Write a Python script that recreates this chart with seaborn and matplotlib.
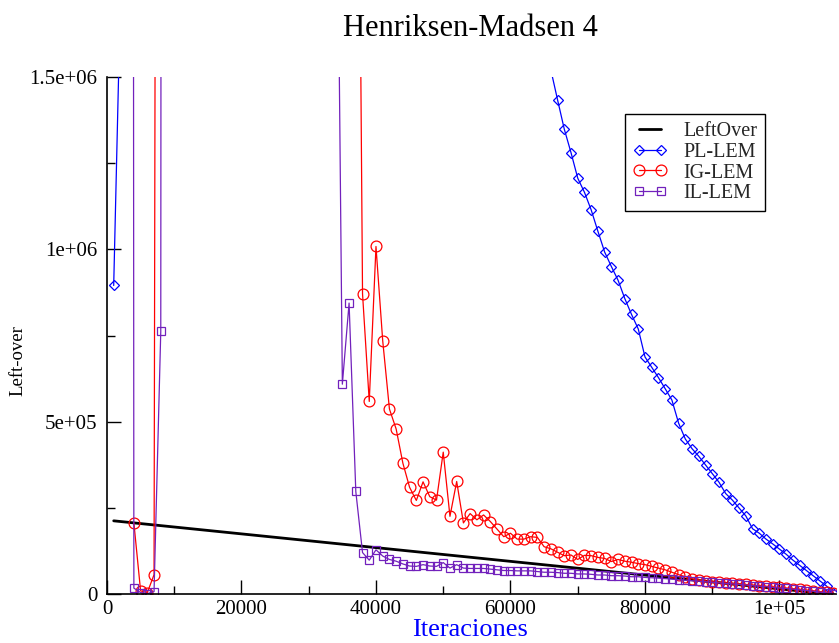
import matplotlib
matplotlib.use("Agg")
import matplotlib.pyplot as plt
import numpy as np
import pandas as pd
import seaborn as sns
from matplotlib.ticker import MultipleLocator

# ---- data (iterations in thousands, left-over values in thousands) ----
leftover_iter_k = [1, 108]
leftover_val_k = [213, 0]

pl_iter_k = [1, 2, 66, 67, 68, 69, 70, 71, 72, 73, 74, 75, 76, 77, 78, 79, 80,
             81, 82, 83, 84, 85, 86, 87, 88, 89, 90, 91, 92, 93, 94, 95, 96,
             97, 98, 99, 100, 101, 102, 103, 104, 105, 106, 107, 108]
pl_val_k = [895, 1730, 1520, 1433, 1348, 1280, 1206, 1165, 1114, 1052, 992, 950,
            910, 857, 811, 769, 688, 658, 628, 596, 563, 496, 450, 422, 400,
            375, 350, 325, 292, 273, 250, 227, 190, 177, 160, 146, 131, 116,
            99, 84, 69, 54, 39, 24, 4]

ig_iter_k = [4, 5, 6, 7, 8, 37, 38, 39, 40, 41, 42, 43, 44, 45, 46, 47, 48, 49,
             50, 51, 52, 53, 54, 55, 56, 57, 58, 59, 60, 61, 62, 63, 64, 65, 66,
             67, 68, 69, 70, 71, 72, 73, 74, 75, 76, 77, 78, 79, 80, 81, 82, 83,
             84, 85, 86, 87, 88, 89, 90, 91, 92, 93, 94, 95, 96, 97, 98, 99, 100,
             101, 102, 103, 104, 105, 106, 107, 108]
ig_val_k = [207, 10, 5, 57, 10000, 3400, 871, 559, 1008, 735, 537, 479, 380, 310,
            272, 326, 283, 273, 412, 226, 327, 207, 234, 216, 230, 211, 189, 167,
            177, 160, 160, 167, 165, 138, 132, 122, 112, 114, 101, 113, 112, 107,
            104, 95, 101, 96, 93, 89, 86, 81, 76, 71, 64, 57, 51, 45, 41, 38.5,
            36.5, 34.5, 33, 31.5, 30, 28.5, 26.5, 25, 23.5, 21.5, 20, 18.5, 16.5,
            14.5, 12.5, 10.5, 8, 5.5, 3]

il_iter_k = [3, 4, 5, 6, 7, 8, 9, 34, 35, 36, 37, 38, 39, 40, 41, 42, 43, 44, 45,
             46, 47, 48, 49, 50, 51, 52, 53, 54, 55, 56, 57, 58, 59, 60, 61, 62,
             63, 64, 65, 66, 67, 68, 69, 70, 71, 72, 73, 74, 75, 76, 77, 78, 79,
             80, 81, 82, 83, 84, 85, 86, 87, 88, 89, 90, 91, 92, 93, 94, 95, 96,
             97, 98, 99, 100, 101, 102, 103, 104, 105, 106, 107, 108]
il_val_k = [30000, 18, 5, 2, 8, 762, 30000, 2600, 609, 844, 298, 121, 99, 129,
            111, 101, 96, 88, 82, 81, 86, 82, 81, 92, 76, 86, 76, 75, 75, 75, 73,
            71, 69, 69, 68, 68, 68, 66, 64, 64, 63, 61, 61, 59, 59, 58, 56, 56,
            54, 54, 53, 51, 51, 49, 48, 47, 45.5, 44, 42.5, 41, 39.5, 38, 36.5,
            35, 33, 31.5, 30, 28.5, 27, 25, 23.5, 22, 20, 18.5, 17, 15, 13, 11,
            9, 6.5, 4, 2]

x_ticks = [0, 20000, 40000, 60000, 80000, 100000]
x_tick_labels = ["0", "20000", "40000", "60000", "80000", "1e+05"]
y_ticks = [0, 500000, 1000000, 1500000]
y_tick_labels = ["0", "5e+05", "1e+06", "1.5e+06"]

series = [
    ("LeftOver", leftover_iter_k, leftover_val_k),
    ("PL-LEM", pl_iter_k, pl_val_k),
    ("IG-LEM", ig_iter_k, ig_val_k),
    ("IL-LEM", il_iter_k, il_val_k),
]
frames = {
    name: pd.DataFrame({"iter": np.array(it) * 1000.0, "val": np.array(v) * 1000.0})
    for name, it, v in series
}

styles = {
    "LeftOver": dict(color="black", linewidth=2.0, marker=None),
    "PL-LEM": dict(color="#0000ff", linewidth=0.9, marker="D", markersize=4.6),
    "IG-LEM": dict(color="#ff0000", linewidth=0.9, marker="o", markersize=7.8),
    "IL-LEM": dict(color="#7221bc", linewidth=0.9, marker="s", markersize=5.5),
}

sns.set_style("white")
plt.rcParams["font.family"] = ["Liberation Serif", "DejaVu Serif"]

fig = plt.figure(figsize=(8.39, 6.43), dpi=100)
ax = fig.add_axes([0.1275, 0.0757, 0.8689, 0.805])

for name, _, _ in series:
    st = dict(styles[name])
    color = st.pop("color")
    marker = st.pop("marker")
    kws = dict(color=color, linewidth=st.pop("linewidth"))
    if marker is not None:
        kws.update(marker=marker, markersize=st.pop("markersize"),
                   markerfacecolor="none", markeredgecolor=color,
                   markeredgewidth=0.9)
    sns.lineplot(data=frames[name], x="iter", y="val", ax=ax, label=name,
                 estimator=None, sort=False, **kws)

ax.set_xlim(0, 108400)
ax.set_ylim(0, 1500000)
ax.set_xticks(x_ticks)
ax.set_xticklabels(x_tick_labels)
ax.set_yticks(y_ticks)
ax.set_yticklabels(y_tick_labels)
ax.xaxis.set_minor_locator(MultipleLocator(10000))
ax.yaxis.set_minor_locator(MultipleLocator(250000))
ax.tick_params(which="both", direction="in", width=1.0, color="black",
               labelsize=15, labelcolor="black")
ax.tick_params(which="major", length=10)
ax.tick_params(which="minor", length=6)
ax.tick_params(axis="x", which="both", pad=4)
ax.tick_params(axis="y", which="both", pad=7)
ax.tick_params(axis="x", which="both", bottom=True, top=False)
ax.tick_params(axis="y", which="both", left=True, right=False)

for side in ("top", "right"):
    ax.spines[side].set_visible(False)
for side in ("left", "bottom"):
    ax.spines[side].set_color("black")
    ax.spines[side].set_linewidth(1.2)

ax.set_xlabel("")
ax.set_ylabel("")
ax.grid(False)

fig.text(470 / 839, 1 - 29 / 643, "Henriksen-Madsen 4", ha="center",
         va="center", fontsize=22, color="black")
fig.text(470 / 839, 1 - 630 / 643, "Iteraciones", ha="center", va="center",
         fontsize=19, color="#0000ff")
fig.text(18 / 839, 1 - 361 / 643, "Left-over", ha="center", va="center",
         rotation=90, fontsize=13.5, color="black")

leg = ax.legend(loc="upper left", bbox_to_anchor=(0.7106, 0.928),
                numpoints=2, handlelength=1.7, handletextpad=0.8,
                labelspacing=0.08, borderpad=0.4, borderaxespad=0.0,
                fontsize=14.5, frameon=True, fancybox=False, framealpha=1.0,
                edgecolor="black")
leg.get_frame().set_linewidth(1.0)

fig.savefig("out.png", dpi=100)
